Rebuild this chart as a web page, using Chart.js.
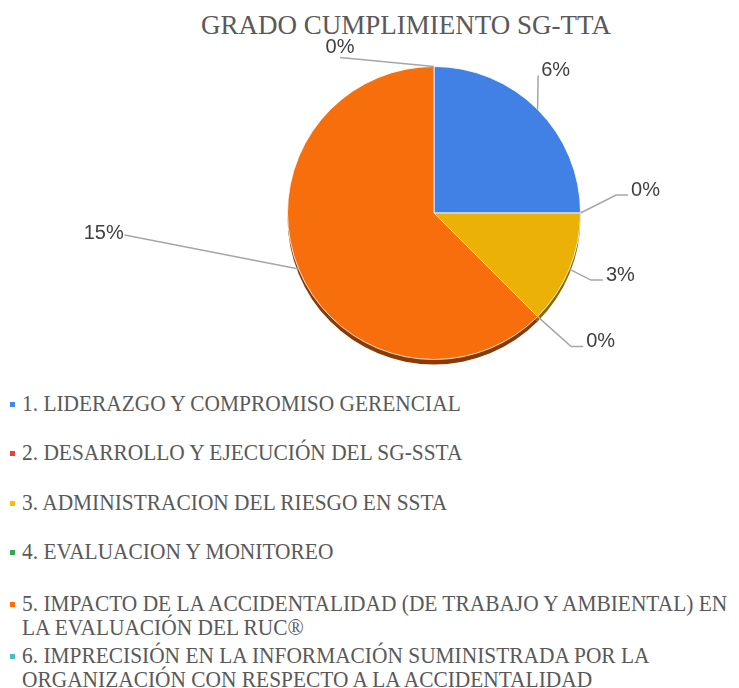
<!DOCTYPE html>
<html>
<head>
<meta charset="utf-8">
<script src="https://cdn.jsdelivr.net/npm/chart.js@4.4.1/dist/chart.umd.min.js"></script>
<style>
  html, body { margin: 0; padding: 0; background: #fff; width: 739px; height: 688px; overflow: hidden; }
  #wrap { position: relative; width: 739px; height: 688px; }
  #title {
    position: absolute; left: 106px; width: 600px; top: 9px;
    text-align: center; font: 27px 'Liberation Serif', 'Times New Roman', serif;
    color: #595959; line-height: 32px; white-space: nowrap;
  }
  #chart { position: absolute; left: 0; top: 0; }
  .lg-item { position: absolute; left: 0; width: 739px; }
  .lg-mark { position: absolute; left: 10px; width: 5px; height: 5px; }
  .lg-text {
    position: absolute; left: 22px; white-space: nowrap;
    font: 23px 'Liberation Serif', 'Times New Roman', serif; color: #595959;
    line-height: 23.5px; transform: scaleX(0.93); transform-origin: left top;
  }
</style>
</head>
<body>
<div id="wrap">
  <div id="title">GRADO CUMPLIMIENTO SG-TTA</div>
  <canvas id="chart" width="739" height="380"></canvas>
  <div id="legend"></div>
</div>
<script>
// --- data ---
const categories = [
  ['1. LIDERAZGO Y COMPROMISO GERENCIAL'],
  ['2. DESARROLLO Y EJECUCIÓN DEL SG-SSTA'],
  ['3. ADMINISTRACION DEL RIESGO EN SSTA'],
  ['4. EVALUACION Y MONITOREO'],
  ['5. IMPACTO DE LA ACCIDENTALIDAD (DE TRABAJO Y AMBIENTAL) EN', 'LA EVALUACIÓN DEL RUC®'],
  ['6. IMPRECISIÓN EN LA INFORMACIÓN SUMINISTRADA POR LA', 'ORGANIZACIÓN CON RESPECTO A LA ACCIDENTALIDAD']
];
const values = [6, 0, 3, 0, 15, 0];   // percent shown on each slice
const colors = ['#4285F4', '#EA4335', '#FBBC04', '#34A853', '#FF6D01', '#46BDC6'];
const sliceColors = ['#4181E6', '#E0402F', '#ECB107', '#34A853', '#F76F0C', '#46BDC6'];
const rimColors = ['#2b5aa8', '#9a2a1f', '#8c6a02', '#1f6a33', '#8a3a06', '#2a7a80'];

// label placement relative to the slice anchor (layout only)
const labelPlacement = [
  { dx: 18, dy: -39, side: 'left', elbow: 0 },
  { dx: 65, dy: -23, side: 'left', elbow: 12 },
  { dx: 51, dy: 6, side: 'left', elbow: 12 },
  { dx: 63, dy: 25, side: 'left', elbow: 12 },
  { dx: -195, dy: -36, side: 'right', elbow: 0 },
  { dx: -94, dy: -19, side: 'bottom', elbow: 0 }
];
// legend line centres (layout only)
const legendTops = [404, 453, 503, 552, 604, 656];

// leader lines + value labels, plus a thin 3D rim under the pie
const leaderLabels = {
  id: 'leaderLabels',
  beforeDatasetsDraw(chart, args, opts) {
    const ctx = chart.ctx;
    const arcs = chart.getDatasetMeta(0).data;
    ctx.save();
    arcs.forEach((arc, i) => {
      const p = arc.getProps(['x', 'y', 'startAngle', 'endAngle', 'outerRadius'], true);
      if (p.endAngle - p.startAngle <= 0) return;
      ctx.beginPath();
      ctx.moveTo(p.x, p.y + opts.depth);
      ctx.arc(p.x, p.y + opts.depth, p.outerRadius, p.startAngle, p.endAngle);
      ctx.closePath();
      ctx.fillStyle = rimColors[i];
      ctx.fill();
    });
    ctx.restore();
  },
  afterDatasetsDraw(chart, args, opts) {
    const ctx = chart.ctx;
    const arcs = chart.getDatasetMeta(0).data;
    ctx.save();
    ctx.font = opts.font;
    ctx.textAlign = 'center';
    ctx.textBaseline = 'middle';
    arcs.forEach((arc, i) => {
      const p = arc.getProps(['x', 'y', 'startAngle', 'endAngle', 'outerRadius'], true);
      const mid = (p.startAngle + p.endAngle) / 2;
      const ax = p.x + p.outerRadius * Math.cos(mid);
      const ay = p.y + p.outerRadius * Math.sin(mid);
      const pl = labelPlacement[i];
      const tx = ax + pl.dx, ty = ay + pl.dy;
      const text = values[i] + '%';
      const w = ctx.measureText(text).width;
      let bx, by;
      if (pl.side === 'left') { bx = tx - w / 2 - 3; by = ty + 5; }
      else if (pl.side === 'right') { bx = tx + w / 2 + 1; by = ty + 2; }
      else { bx = tx; by = ty + 10; }
      ctx.beginPath();
      ctx.moveTo(ax, ay);
      if (pl.elbow) ctx.lineTo(bx - pl.elbow, by);
      ctx.lineTo(bx, by);
      ctx.strokeStyle = opts.lineColor;
      ctx.lineWidth = 1.5;
      ctx.stroke();
      ctx.fillStyle = opts.color;
      ctx.fillText(text, tx, ty);
    });
    ctx.restore();
  }
};

new Chart(document.getElementById('chart'), {
  type: 'pie',
  data: {
    labels: categories.map(c => c.join(' ')),
    datasets: [{
      data: values,
      backgroundColor: sliceColors,
      borderColor: 'rgba(255,255,255,0.8)',
      borderWidth: 1
    }]
  },
  options: {
    responsive: false,
    animation: false,
    events: [],
    layout: { padding: { left: 286, right: 157, top: 66, bottom: 20 } },
    plugins: {
      legend: { display: false },
      tooltip: { enabled: false },
      leaderLabels: {
        depth: 5,
        font: "20px 'Liberation Sans', Arial, sans-serif",
        color: '#404040',
        lineColor: '#a6a6a6'
      }
    }
  },
  plugins: [leaderLabels]
});

// HTML legend
const legendEl = document.getElementById('legend');
categories.forEach((lines, i) => {
  const item = document.createElement('div');
  item.className = 'lg-item';
  item.style.top = (legendTops[i] - 11.75) + 'px';
  const mark = document.createElement('div');
  mark.className = 'lg-mark';
  mark.style.background = colors[i];
  mark.style.top = '9.5px';
  const txt = document.createElement('div');
  txt.className = 'lg-text';
  txt.innerHTML = lines.join('<br>');
  item.appendChild(mark);
  item.appendChild(txt);
  legendEl.appendChild(item);
});
</script>
</body>
</html>
